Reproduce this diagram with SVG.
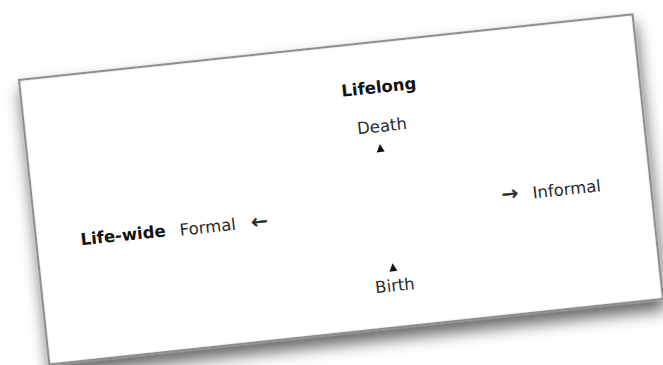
<svg xmlns="http://www.w3.org/2000/svg" width="663" height="365" viewBox="0 0 663 365">
  <defs>
    <filter id="shadow" x="-10%" y="-15%" width="120%" height="145%">
      <feGaussianBlur in="SourceAlpha" stdDeviation="8"/>
      <feOffset dx="1" dy="10" result="b"/>
      <feComponentTransfer><feFuncA type="linear" slope="0.6"/></feComponentTransfer>
      <feMerge><feMergeNode/><feMergeNode in="SourceGraphic"/></feMerge>
    </filter>
    <style>
      .lbl { font-family: "DejaVu Sans", Verdana, sans-serif; font-size: 16.5px; fill: #2a2a2a; text-anchor: middle; }
      .bold { font-weight: bold; fill: #111; }
      .arr { font-size: 20px; stroke: #2a2a2a; stroke-width: 0.5; }
      .tri { fill: #111; }
    </style>
  </defs>
  <rect width="663" height="365" fill="#ffffff"/>
  <g transform="translate(19,80) rotate(-6.1)">
    <g id="card">
      <rect x="0" y="0" width="617" height="286" fill="#ffffff" stroke="#8e8e8e" stroke-width="2.2" filter="url(#shadow)"/>
    </g>
    <g id="lifelong"><text class="lbl bold" x="357" y="51">Lifelong</text></g>
    <g id="death">
      <text class="lbl" x="356" y="90">Death</text>
      <polygon class="tri" points="348,110 356,110 352,102"/>
    </g>
    <g id="birth">
      <polygon class="tri" points="348,230 356,230 352,222"/>
      <text class="lbl" x="352" y="250">Birth</text>
    </g>
    <g id="lifewide"><text class="lbl bold" x="87" y="171">Life-wide</text></g>
    <g id="formal">
      <text class="lbl" x="172" y="172">Formal</text>
      <text class="lbl arr" x="224" y="173">←</text>
    </g>
    <g id="informal">
      <text class="lbl arr" x="476" y="172">→</text>
      <text class="lbl" x="533" y="172.5">Informal</text>
    </g>
  </g>
</svg>
